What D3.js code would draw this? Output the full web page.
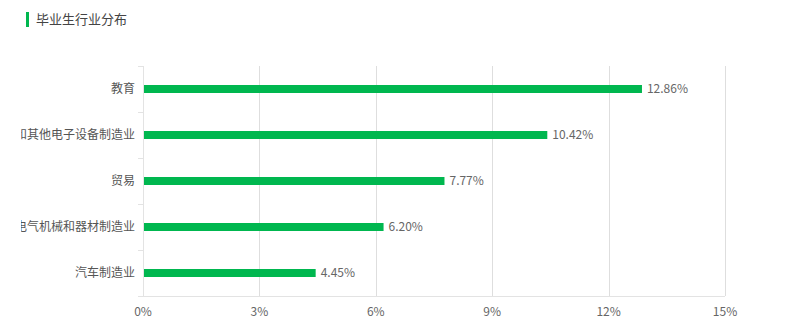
<!DOCTYPE html>
<html><head><meta charset="utf-8">
<script src="https://cdn.jsdelivr.net/npm/d3@7/dist/d3.min.js"></script>
<style>
body{margin:0;background:#fff;}
svg{display:block;font-family:"Microsoft YaHei","Noto Sans CJK SC",sans-serif;}
</style></head>
<body>
<svg id="chart" width="800" height="328"></svg>
<script>
const title = "毕业生行业分布";
const categories = ["教育","计算机、通信和其他电子设备制造业","贸易","电气机械和器材制造业","汽车制造业"];
const values = [12.86, 10.42, 7.77, 6.20, 4.45];
const tickValues = [0,3,6,9,12,15];
const tickLabels = ["0%","3%","6%","9%","12%","15%"];

const svg = d3.select("#chart");
const m = {left:143, right:75, top:66, bottom:32};
const W = 800, H = 328;

svg.append("defs").append("clipPath").attr("id","lblclip")
  .append("rect").attr("x",21).attr("y",0).attr("width",W-21).attr("height",H);

svg.append("rect").attr("x",26).attr("y",12).attr("width",3).attr("height",15).attr("fill","#00b74f");
svg.append("text").attr("x",36).attr("y",24).attr("font-size",13).attr("fill","#444").text(title);

const x = d3.scaleLinear().domain([0,15]).range([m.left, W-m.right]);
const y = d3.scaleBand().domain(categories).range([m.top, H-m.bottom]);

// grid
svg.append("g").selectAll("line").data(tickValues.slice(1)).join("line")
  .attr("x1",d=>Math.round(x(d))+0.5).attr("x2",d=>Math.round(x(d))+0.5)
  .attr("y1",m.top).attr("y2",H-m.bottom)
  .attr("stroke","#dedede").attr("stroke-width",1);

// y axis line
svg.append("line").attr("x1",m.left+0.5).attr("x2",m.left+0.5).attr("y1",m.top).attr("y2",H-m.bottom)
  .attr("stroke","#e3e3e3");
// y ticks at band boundaries
const bounds = categories.map(c=>y(c)).concat([H-m.bottom]);
svg.append("g").selectAll("line").data(bounds).join("line")
  .attr("x1",m.left-5).attr("x2",m.left).attr("y1",d=>Math.round(d)+0.5).attr("y2",d=>Math.round(d)+0.5)
  .attr("stroke","#e3e3e3");
// x axis line
svg.append("line").attr("x1",m.left).attr("x2",W-m.right).attr("y1",H-m.bottom+0.5).attr("y2",H-m.bottom+0.5)
  .attr("stroke","#e3e3e3");

// x tick labels
svg.append("g").selectAll("text").data(tickValues).join("text")
  .attr("x",d=>x(d)).attr("y",H-m.bottom+20).attr("text-anchor","middle")
  .attr("font-size",12).attr("fill","#666").text((d,i)=>tickLabels[i]);

// category labels (clipped at the left like the reference)
svg.append("g").attr("clip-path","url(#lblclip)").selectAll("text").data(categories).join("text")
  .attr("x",m.left-8).attr("y",d=>y(d)+y.bandwidth()/2+4).attr("text-anchor","end")
  .attr("font-size",12).attr("fill","#555").text(d=>d);

// bars
const bh = 8;
svg.append("g").selectAll("rect").data(values).join("rect")
  .attr("x",x(0)+1).attr("y",(d,i)=>y(categories[i])+y.bandwidth()/2-bh/2)
  .attr("width",d=>x(d)-x(0)-1).attr("height",bh).attr("fill","#00b74f");

// value labels
svg.append("g").selectAll("text").data(values).join("text")
  .attr("x",d=>x(d)+5).attr("y",(d,i)=>y(categories[i])+y.bandwidth()/2+4)
  .attr("font-size",12).attr("fill","#666").text(d=>d.toFixed(2)+"%");
</script>
</body></html>
